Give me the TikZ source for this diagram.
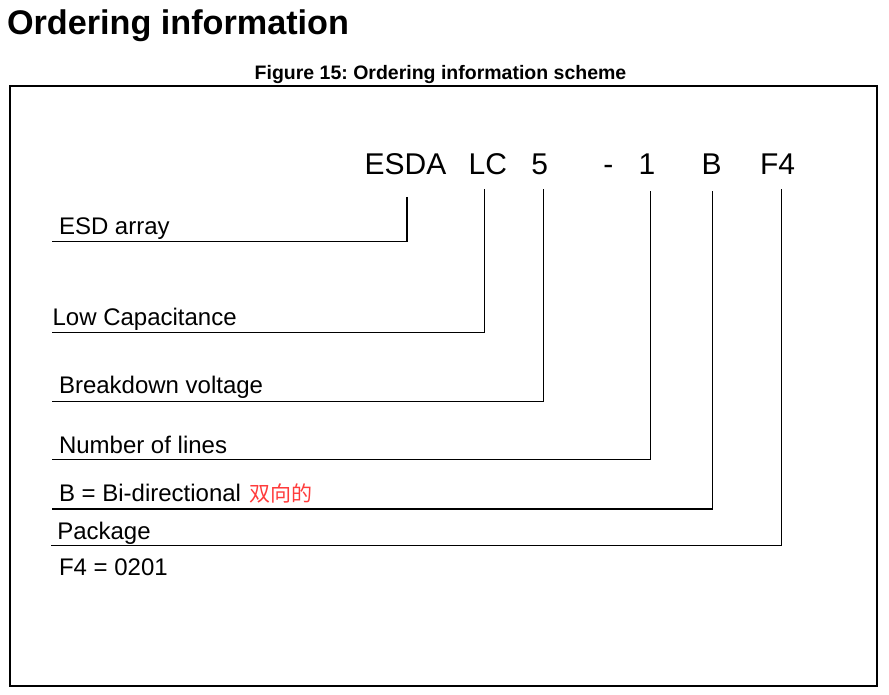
\documentclass[tikz,border=0pt]{standalone}
\usepackage{fontspec}
\setmainfont{Liberation Sans}
\newfontfamily\cjkfont{Noto Sans CJK SC}
\usepackage{xcolor}
\definecolor{notered}{HTML}{FF3B3B}
\usepackage{tikz}
\usetikzlibrary{positioning}
\frenchspacing

\begin{document}
\begin{tikzpicture}[
  x=1pt, y=-1pt,
  every node/.style={inner sep=0pt, outer sep=0pt},
  code/.style={anchor=base, font=\fontsize{30}{36}\selectfont},
  field/.style={anchor=base west, font=\fontsize{24}{28}\selectfont},
  leader/.style={draw, line width=1.2pt}
]
\useasboundingbox (0,0) rectangle (889,695);

% Heading
\node[anchor=base west, font=\bfseries\fontsize{34.2}{40}\selectfont] (title) at (7,35) {Ordering information};
\node[anchor=base, font=\bfseries\fontsize{19.5}{24}\selectfont] (caption) at (440.5,79.5) {Figure 15: Ordering information scheme};
\draw[line width=2pt] (10,86) rectangle (877,686);

% Part number
\node[code] (esda) at (405.5,175) {ESDA};
\node[code] (lc) at (487.8,175) {LC};
\node[code] (volt) at (539.8,175) {5};
\node[code] (dash) at (608.3,175) {-};
\node[code] (lines) at (647,175) {1};
\node[code] (bidi) at (711.7,175) {B};
\node[code] (pkg) at (777.5,175) {F4};

% Fields
\node[field] (esdaLbl) at (59,235) {ESD array};
\node[field] (lcLbl) at (52.6,325) {Low Capacitance};
\node[field] (voltLbl) at (59,393.5) {Breakdown voltage};
\node[field] (linesLbl) at (59,453.3) {Number of lines};
\node[field] (bidiLbl) at (59,501) {B = Bi-directional};
\node[anchor=base west, xshift=8pt, text=notered, font=\cjkfont\fontsize{21}{25}\selectfont] (bidiCn) at (bidiLbl.base east) {双向的};
\node[field] (pkgLbl) at (57.3,539) {Package};
\node[field] (pkgVal) at (59,575) {F4 = 0201};

% Leaders
\coordinate (esdaTop) at (407,197);
\coordinate (esdaEnd) at (52.3,241.7);
\coordinate (lcTop) at (484.7,189.5);
\coordinate (lcEnd) at (52.3,332.5);
\coordinate (voltTop) at (543.5,189.5);
\coordinate (voltEnd) at (52.3,401.5);
\coordinate (linesTop) at (650.3,191.5);
\coordinate (linesEnd) at (52.3,459.3);
\coordinate (bidiTop) at (712.3,191.5);
\coordinate (bidiEnd) at (52,509);
\coordinate (pkgTop) at (781.7,189.5);
\coordinate (pkgEnd) at (51,545.7);

\draw[leader] (esdaTop) |- (esdaEnd);
\draw[leader] (lcTop) |- (lcEnd);
\draw[leader] (voltTop) |- (voltEnd);
\draw[leader] (linesTop) |- (linesEnd);
\draw[leader] (bidiTop) |- (bidiEnd);
\draw[leader] (pkgTop) |- (pkgEnd);

\end{tikzpicture}
\end{document}
